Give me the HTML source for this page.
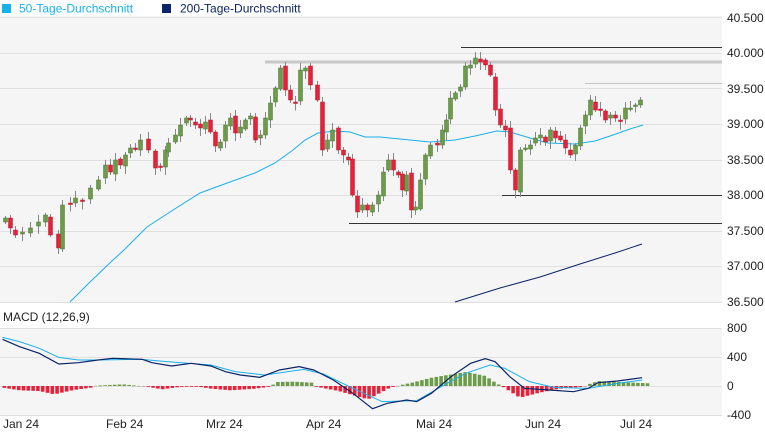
<!DOCTYPE html>
<html><head><meta charset="utf-8"><style>
body{margin:0;background:#fff;font-family:"Liberation Sans",Arial,sans-serif}
svg text{font-family:"Liberation Sans",Arial,sans-serif}
</style></head><body>
<svg id="s" width="765" height="430" xmlns="http://www.w3.org/2000/svg">
<rect x="0" y="16" width="722" height="286" fill="#f5f5f5"/>
<rect x="0" y="329" width="722" height="87" fill="#f5f5f5"/>
<g stroke="#e0e0e0" stroke-width="1">
<line x1="0" x2="722" y1="17.5" y2="17.5"/><line x1="0" x2="722" y1="53.5" y2="53.5"/>
<line x1="0" x2="722" y1="88.5" y2="88.5"/><line x1="0" x2="722" y1="124.5" y2="124.5"/>
<line x1="0" x2="722" y1="160.5" y2="160.5"/><line x1="0" x2="722" y1="195.5" y2="195.5"/>
<line x1="0" x2="722" y1="231.5" y2="231.5"/><line x1="0" x2="722" y1="266.5" y2="266.5"/>
<line x1="0" x2="722" y1="302.5" y2="302.5"/>
<line x1="0" x2="722" y1="328.5" y2="328.5"/><line x1="0" x2="722" y1="357.5" y2="357.5"/>
<line x1="0" x2="722" y1="386.5" y2="386.5"/><line x1="0" x2="722" y1="415.5" y2="415.5"/>
</g>
<rect x="2" y="4" width="9" height="9" fill="#1ab0ea"/>
<text x="19" y="12.5" font-size="12" fill="#1ab0ea">50-Tage-Durchschnitt</text>
<rect x="162" y="4" width="9" height="9" fill="#0c2468"/>
<text x="180" y="12.5" font-size="12" fill="#0c2468">200-Tage-Durchschnitt</text>
<g font-size="12" fill="#222">
<text x="727" y="22">40.500</text><text x="727" y="57">40.000</text><text x="727" y="93">39.500</text>
<text x="727" y="128">39.000</text><text x="727" y="164">38.500</text><text x="727" y="199">38.000</text>
<text x="727" y="235">37.500</text><text x="727" y="270">37.000</text><text x="727" y="306">36.500</text>
<text x="727" y="332">800</text><text x="727" y="361">400</text><text x="727" y="390">0</text><text x="727" y="419">-400</text>
<text x="3" y="321">MACD (12,26,9)</text>
<text x="3" y="428">Jan 24</text><text x="106" y="428">Feb 24</text><text x="206" y="428">Mrz 24</text>
<text x="306" y="428">Apr 24</text><text x="416" y="428">Mai 24</text><text x="525" y="428">Jun 24</text><text x="620" y="428">Jul 24</text>
</g>
<line x1="265" x2="722" y1="62" y2="62" stroke="#c8c8c8" stroke-width="3"/>
<line x1="461" x2="722" y1="47.5" y2="47.5" stroke="#333" stroke-width="1"/>
<line x1="585" x2="722" y1="83.5" y2="83.5" stroke="#c4c4c4" stroke-width="1"/>
<line x1="502" x2="722" y1="195.5" y2="195.5" stroke="#333" stroke-width="1"/>
<line x1="349" x2="722" y1="223.5" y2="223.5" stroke="#333" stroke-width="1"/>
<g id="g"></g>
</svg>
<script>
(function(){
var NS="http://www.w3.org/2000/svg",g=document.getElementById('g');
function el(t,a){var e=document.createElementNS(NS,t);for(var k in a)e.setAttribute(k,a[k]);g.appendChild(e);return e;}
function interp(p,x){if(x<=p[0][0])return p[0][1];for(var i=1;i<p.length;i++){if(x<=p[i][0]){var a=p[i-1],b=p[i];return a[1]+(b[1]-a[1])*(x-a[0])/(b[0]-a[0]);}}return p[p.length-1][1];}
function poly(p,c,w){el('polyline',{points:p.map(function(q){return q[0]+','+q[1]}).join(' '),fill:'none',stroke:c,'stroke-width':w||1});}
var ma50=[[70,302],[90,282],[113,260],[125,249],[147,227],[170,212],[200,193],[230,182],[255,173],[275,163],[293,150],[305,140],[318,133],[335,131],[350,132],[365,137],[380,137],[400,139],[430,142],[455,140],[475,136],[497,131],[510,132],[530,138],[548,143],[575,144],[595,141],[613,135],[630,129],[643,125]];
poly(ma50,'#1ab0ea',1);
poly([[455,302],[500,288],[540,277],[580,264],[615,253],[642,244]],'#0c2468',1);
var cl=[[5,218],[10,228],[15,235],[22,232],[30,228],[38,222],[45,215],[50,235],[58,248],[62,205],[70,203],[75,198],[82,200],[90,188],[98,180],[105,165],[110,172],[115,160],[120,165],[125,155],[130,148],[135,148],[140,140],[148,150],[155,168],[160,167],[165,150],[168,143],[175,135],[180,125],[186,118],[190,120],[195,125],[200,128],[205,122],[210,132],[215,146],[220,142],[225,125],[230,118],[235,133],[240,127],[245,120],[250,116],[255,140],[260,135],[265,118],[270,103],[275,88],[280,68],[285,90],[290,100],[295,102],[300,70],[305,68],[310,85],[317,100],[322,150],[327,140],[332,130],[338,150],[343,155],[348,160],[352,195],[357,212],[362,205],[367,210],[372,205],[378,195],[383,172],[388,160],[393,170],[398,175],[402,190],[406,175],[411,210],[415,207],[420,180],[425,155],[430,145],[437,145],[442,130],[446,120],[450,98],[455,93],[460,87],[465,66],[470,65],[475,58],[480,62],[485,65],[490,75],[495,110],[500,125],[505,130],[510,170],[515,190],[520,150],[525,148],[530,145],[535,138],[540,135],[545,142],[550,130],[555,138],[560,140],[565,148],[570,155],[575,145],[580,128],[585,115],[590,100],[595,110],[600,110],[605,120],[610,115],[615,118],[620,120],[625,108],[630,108],[635,105],[640,100]];
for(var i=0;i<cl.length;i++){var x=cl[i][0],c=cl[i][1],o=i?cl[i-1][1]+((i*7)%5-2):c+4;
 var up=c<o,tp=Math.min(o,c),bt=Math.max(o,c);if(bt-tp<1.5)bt=tp+1.5;
 var hi=tp-2-((i*13)%6),lo=bt+2+((i*11)%7);
 el('line',{x1:x+0.5,x2:x+0.5,y1:hi,y2:lo,stroke:'#888','stroke-width':1});
 el('rect',{x:x-1.5,y:tp,width:4,height:bt-tp,fill:up?'#6c9b4a':'#e8213a',stroke:up?'#4d7434':'#b01c2c','stroke-width':0.5});
}
function z(p){return p.map(function(q){return [q[0]/2.04,300+q[1]/3]});}
var hk=[[5,265],[40,273],[80,275],[110,285],[150,272],[185,265],[195,259],[250,255],[300,262],[330,270],[370,262],[400,261],[430,268],[470,273],[520,268],[550,262],[565,248],[600,247],[635,250],[645,262],[690,275],[750,300],[795,265],[815,258],[840,250],[880,235],[950,218],[990,230],[1010,250],[1025,262],[1060,295],[1100,280],[1140,268],[1190,262],[1200,255],[1220,245],[1260,248],[1325,252]];
for(var x=4;x<=650;x+=4.8){var v=interp(hk,x*2.04);var h=(v-260)/3;
 var c=h>0.3?'#e8213a':(h<-0.3?'#6c9b4a':'#aaa');
 el('rect',{x:x-1.5,y:h>0?386:386+h,width:3.6,height:Math.max(Math.abs(h),0.8),fill:c});}
poly(z([[5,112],[40,125],[80,145],[120,172],[160,180],[200,180],[290,178],[340,185],[430,195],[480,215],[540,225],[620,208],[660,222],[720,265],[780,305],[850,302],[900,260],[950,220],[1000,195],[1030,205],[1080,245],[1130,262],[1200,265],[1260,250],[1310,240]]),'#1ab0ea',1);
poly(z([[5,118],[40,140],[80,160],[120,192],[160,188],[200,180],[230,175],[290,178],[310,188],[350,198],[390,190],[430,198],[460,215],[490,225],[530,232],[570,210],[610,200],[640,210],[680,240],[720,280],[760,326],[790,310],[830,300],[850,305],[880,280],[920,230],[960,190],[990,176],[1010,185],[1040,230],[1070,265],[1120,270],[1170,275],[1200,265],[1220,248],[1260,243],[1310,233]]),'#0c2468',1.2);
})();
</script>
</body></html>
